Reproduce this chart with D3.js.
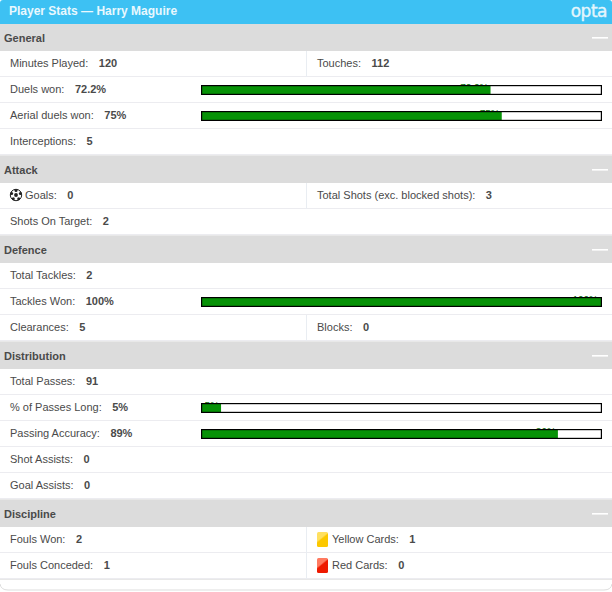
<!DOCTYPE html>
<html>
<head>
<meta charset="utf-8">
<script src="https://cdn.jsdelivr.net/npm/d3@7"></script>
<style>
html, body { margin: 0; padding: 0; background: #fff; overflow: hidden; }
svg { display: block; }
text { font-family: "Liberation Sans", Arial, sans-serif; font-size: 11px; }
</style>
</head>
<body>
<svg id="chart"></svg>
<script>
var title = 'Player Stats \u2014 Harry Maguire'
var sections = ['General', 'Attack', 'Defence', 'Distribution', 'Discipline']

// each row holds one or two stats: label, shown value, percent for the bar, icon
var generalRows = [
    [['Minutes Played', '120'], ['Touches', '112']],
    [['Duels won', '72.2%', 72.2]],
    [['Aerial duels won', '75%', 75]],
    [['Interceptions', '5']]
]
var attackRows = [
    [['Goals', '0', null, 'ball'], ['Total Shots (exc. blocked shots)', '3']],
    [['Shots On Target', '2']]
]
var defenceRows = [
    [['Total Tackles', '2']],
    [['Tackles Won', '100%', 100]],
    [['Clearances', '5'], ['Blocks', '0']]
]
var distributionRows = [
    [['Total Passes', '91']],
    [['% of Passes Long', '5%', 5]],
    [['Passing Accuracy', '89%', 89]],
    [['Shot Assists', '0']],
    [['Goal Assists', '0']]
]
var disciplineRows = [
    [['Fouls Won', '2'], ['Yellow Cards', '1', null, 'yellow']],
    [['Fouls Conceded', '1'], ['Red Cards', '0', null, 'red']]
]
var sectionRows = [generalRows, attackRows, defenceRows, distributionRows, disciplineRows]

var width = 612, height = 592
var topH = 24, headH = 27, rowH = 26, gapH = 1
var leftX = 10, rightX = 317, splitX = 306.5

var svg = d3.select('#chart').attr('width', width).attr('height', height)
var defs = svg.append('defs')

function cardGradient(id, top, bottom) {
    var g = defs.append('linearGradient').attr('id', id)
        .attr('x1', 0).attr('y1', 0).attr('x2', 0.6).attr('y2', 1)
    g.append('stop').attr('offset', '0%').attr('stop-color', top)
    g.append('stop').attr('offset', '45%').attr('stop-color', top)
    g.append('stop').attr('offset', '55%').attr('stop-color', bottom)
    g.append('stop').attr('offset', '100%').attr('stop-color', bottom)
}
cardGradient('yellow', '#ffe060', '#fcc800')
cardGradient('red', '#ff7a60', '#ee1a00')

var x = d3.scaleLinear().domain([0, 100]).range([201, 602])

// title bar, rounded on top only
svg.append('rect').attr('width', width).attr('height', 10).attr('rx', 3).attr('fill', '#3dc1f3')
svg.append('rect').attr('y', 4).attr('width', width).attr('height', topH - 4).attr('fill', '#3dc1f3')
svg.append('text').attr('x', 9).attr('y', 15).attr('fill', '#e9f8fe')
    .style('font-weight', 'bold').style('font-size', '12px').text(title)
svg.append('text').attr('x', 607).attr('y', 17).attr('text-anchor', 'end').attr('fill', '#e4f6fd')
    .attr('stroke', '#e4f6fd').attr('stroke-width', 0.4)
    .style('font-family', 'DejaVu Sans').style('font-size', '17px').style('letter-spacing', '-0.5px').text('opta')

function drawIcon(g, name, px) {
    if (name == 'ball') {
        var b = g.append('g').attr('transform', 'translate(' + (px + 6) + ',12)')
        b.append('circle').attr('r', 5.7).attr('fill', '#fff').attr('stroke', '#222').attr('stroke-width', 1)
        b.append('circle').attr('r', 1.9).attr('fill', '#222')
        d3.range(5).forEach(function (k) {
            var a = (k * 72 - 90) * Math.PI / 180
            b.append('circle').attr('cx', 4.6 * Math.cos(a)).attr('cy', 4.6 * Math.sin(a))
                .attr('r', 1.5).attr('fill', '#222')
        })
    } else {
        g.append('rect').attr('x', px).attr('y', 5).attr('width', 11).attr('height', 15).attr('rx', 1.5)
            .attr('fill', 'url(#' + name + ')')
    }
}

function drawStat(g, stat, px) {
    var textX = px
    if (stat[3] == 'ball') textX = px + 15
    if (stat[3] == 'yellow' || stat[3] == 'red') textX = px + 15
    if (stat[3]) drawIcon(g, stat[3], px)
    var t = g.append('text').attr('x', textX).attr('y', 16).attr('fill', '#4a4a4a')
    t.append('tspan').text(stat[0] + ':')
    t.append('tspan').attr('dx', 10.5).style('font-weight', 'bold').text(stat[1])
}

function drawBar(g, value, label) {
    // the percent label sits behind the bar, only its top shows
    g.append('text').attr('x', Math.min(x(value), 600) - 2).attr('y', 14.5)
        .attr('text-anchor', 'end').attr('fill', '#0a6b0a').style('font-size', '10px').text(label)
    g.append('rect').attr('x', x(0)).attr('y', 8).attr('width', x(100) - x(0)).attr('height', 10).attr('fill', '#fff')
    g.append('rect').attr('x', x(0)).attr('y', 8).attr('width', x(value) - x(0)).attr('height', 10).attr('fill', '#079207')
    g.append('rect').attr('x', x(0) + 0.6).attr('y', 8.6).attr('width', x(100) - x(0) - 1.2).attr('height', 8.8)
        .attr('fill', 'none').attr('stroke', '#000').attr('stroke-width', 1.2)
}

var y = topH
sections.forEach(function (name, i) {
    var head = svg.append('g').attr('transform', 'translate(0,' + y + ')')
    head.append('rect').attr('width', width).attr('height', headH).attr('fill', '#dcdcdc')
    head.append('text').attr('x', 4).attr('y', 17.5).attr('fill', '#4a4a4a').style('font-weight', 'bold').text(name)
    head.append('rect').attr('x', 592).attr('y', 13).attr('width', 16).attr('height', 1.6).attr('fill', '#fff')
    y += headH

    var rows = svg.selectAll(null)
        .data(sectionRows[i])
        .enter()
        .append('g')
        .attr('transform', function (d, j) {
            return 'translate(0,' + (y + j * rowH) + ')'
        })
    rows.append('line').attr('x1', 0).attr('x2', width).attr('y1', rowH - 0.5).attr('y2', rowH - 0.5)
        .attr('stroke', '#ececf0')
    rows.each(function (d) {
        var g = d3.select(this)
        drawStat(g, d[0], leftX)
        if (d[0][2] != null) drawBar(g, d[0][2], d[0][1])
        if (d[1]) {
            g.append('line').attr('x1', splitX).attr('x2', splitX).attr('y1', 0).attr('y2', rowH)
                .attr('stroke', '#e9edf2')
            drawStat(g, d[1], rightX)
        }
    })
    y += sectionRows[i].length * rowH

    // thin shadow line closing each section
    svg.append('rect').attr('y', y).attr('width', width).attr('height', gapH).attr('fill', '#e8e8e8')
    y += gapH
})

// rounded bottom edge of the widget
svg.append('path').attr('d', 'M0,584 Q1,590 8,590 L604,590 Q611,590 612,584')
    .attr('fill', 'none').attr('stroke', '#dddddd').attr('stroke-width', 1)
</script>
</body>
</html>
